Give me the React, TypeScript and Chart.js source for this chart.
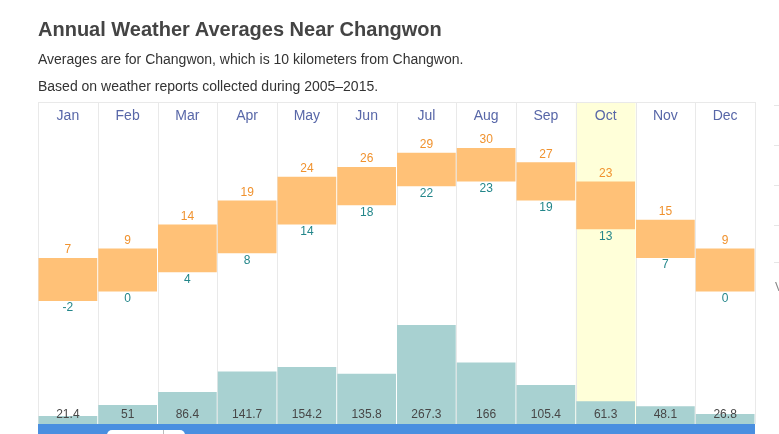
import React, { useEffect, useRef } from "react";
import { Chart, registerables } from "chart.js";

Chart.register(...registerables);

const months = ["Jan", "Feb", "Mar", "Apr", "May", "Jun", "Jul", "Aug", "Sep", "Oct", "Nov", "Dec"];
const highTemps = [7, 9, 14, 19, 24, 26, 29, 30, 27, 23, 15, 9];
const lowTemps = [-2, 0, 4, 8, 14, 18, 22, 23, 19, 13, 7, 0];
const precipitation = [21.4, 51, 86.4, 141.7, 154.2, 135.8, 267.3, 166, 105.4, 61.3, 48.1, 26.8];
const highlightIndex = 9;

const FONT = "Arial, 'Liberation Sans', Helvetica, sans-serif";

const weatherPlugin = {
  id: "weatherDecor",
  beforeDatasetsDraw(chart: any) {
    const { ctx, chartArea, scales } = chart;
    const x = scales.x;
    const n = months.length;
    const colW = (chartArea.right - chartArea.left) / n;
    ctx.save();
    // highlight column
    const hx = x.getPixelForValue(highlightIndex) - colW / 2;
    ctx.fillStyle = "#ffffd9";
    ctx.fillRect(hx, chartArea.top, colW, chartArea.bottom - chartArea.top);
    // grid lines
    ctx.strokeStyle = "#e9e9e9";
    ctx.lineWidth = 1;
    ctx.beginPath();
    for (let i = 0; i <= n; i++) {
      const px = Math.round(x.getPixelForValue(i) - colW / 2) + 0.5;
      ctx.moveTo(px, chartArea.top);
      ctx.lineTo(px, chartArea.bottom);
    }
    ctx.moveTo(chartArea.left, chartArea.top + 0.5);
    ctx.lineTo(chartArea.right, chartArea.top + 0.5);
    ctx.stroke();
    // month labels
    ctx.font = `14px ${FONT}`;
    ctx.fillStyle = "#5867a8";
    ctx.textAlign = "center";
    ctx.textBaseline = "middle";
    months.forEach((m, i) => {
      ctx.fillText(m, x.getPixelForValue(i), chartArea.top + 14);
    });
    ctx.restore();
  },
  afterDatasetsDraw(chart: any) {
    const { ctx, chartArea, scales } = chart;
    const x = scales.x;
    const y = scales.y;
    ctx.save();
    ctx.font = `12px ${FONT}`;
    ctx.textAlign = "center";
    ctx.textBaseline = "middle";
    months.forEach((_, i) => {
      const cx = x.getPixelForValue(i);
      ctx.fillStyle = "#f0922e";
      ctx.fillText(String(highTemps[i]), cx, y.getPixelForValue(highTemps[i]) - 8);
      ctx.fillStyle = "#23868a";
      ctx.fillText(String(lowTemps[i]), cx, y.getPixelForValue(lowTemps[i]) + 7);
      ctx.fillStyle = "#474747";
      ctx.fillText(String(precipitation[i]), cx, chartArea.bottom - 9);
    });
    ctx.restore();
  },
};

export default function App() {
  const canvasRef = useRef<HTMLCanvasElement | null>(null);

  useEffect(() => {
    if (!canvasRef.current) return;
    const chart = new Chart(canvasRef.current, {
      type: "bar",
      data: {
        labels: months,
        datasets: [
          {
            label: "Precipitation",
            data: precipitation,
            yAxisID: "y2",
            backgroundColor: "#a8d1d1",
            borderWidth: 0,
            grouped: false,
            barPercentage: 0.983,
            categoryPercentage: 1,
            order: 2,
          } as any,
          {
            label: "Temperature",
            data: highTemps.map((h, i) => [lowTemps[i], h]),
            yAxisID: "y",
            backgroundColor: "#ffc177",
            borderWidth: 0,
            grouped: false,
            barPercentage: 0.983,
            categoryPercentage: 1,
            order: 1,
          } as any,
        ],
      },
      options: {
        animation: false,
        responsive: false,
        maintainAspectRatio: false,
        layout: { padding: { left: 38, right: 24, top: 102, bottom: 10 } },
        plugins: { legend: { display: false }, tooltip: { enabled: false }, title: { display: false } },
        scales: {
          x: { display: false },
          y: { display: false, min: -27.7, max: 39.6 },
          y2: { display: false, min: 0, max: 870 },
        },
      },
      plugins: [weatherPlugin],
    });
    return () => chart.destroy();
  }, []);

  return (
    <div style={{ position: "fixed", left: 0, top: 0, width: 779, height: 434, overflow: "hidden", background: "#fff", fontFamily: FONT }}>
      <canvas ref={canvasRef} width={779} height={434} style={{ position: "absolute", left: 0, top: 0, width: 779, height: 434 }} />
      <div style={{ position: "absolute", left: 38, top: 19, fontSize: 20, lineHeight: "20px", fontWeight: "bold", color: "#444", whiteSpace: "nowrap" }}>
        Annual Weather Averages Near Changwon
      </div>
      <div style={{ position: "absolute", left: 38, top: 52, fontSize: 14, lineHeight: "14px", color: "#333", whiteSpace: "nowrap" }}>
        Averages are for Changwon, which is 10 kilometers from Changwon.
      </div>
      <div style={{ position: "absolute", left: 38, top: 79, fontSize: 14, lineHeight: "14px", color: "#333", whiteSpace: "nowrap" }}>
        Based on weather reports collected during 2005–2015.
      </div>
      <div style={{ position: "absolute", left: 38, top: 424, width: 717, height: 10, background: "#4a8fe0" }} />
      <div style={{ position: "absolute", left: 107, top: 430, width: 78, height: 10, background: "#fff", borderRadius: 5 }} />
      <div style={{ position: "absolute", left: 163, top: 430, width: 1, height: 4, background: "#bbb" }} />
      {[105, 145, 185, 225, 262].map((t) => (
        <div key={t} style={{ position: "absolute", left: 774, top: t, width: 5, height: 1, background: "#e6e6e6" }} />
      ))}
      <div style={{ position: "absolute", left: 775, top: 281, fontSize: 12, lineHeight: "12px", color: "#888" }}>V</div>
    </div>
  );
}
